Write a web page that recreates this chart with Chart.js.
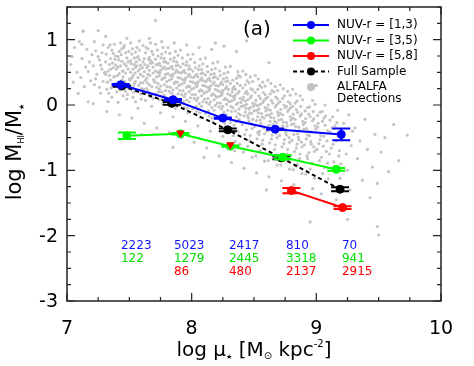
<!DOCTYPE html>
<html>
<head>
<meta charset="utf-8">
<script src="https://cdn.jsdelivr.net/npm/chart.js@4/dist/chart.umd.min.js"></script>
<style>
  html, body { margin: 0; padding: 0; background: #fff; }
  canvas { display: block; }
</style>
</head>
<body>
<canvas id="c" width="474" height="366"></canvas>
<script>
// binned medians (log mu_*, log MHI/M*) with errors
const blueX = [7.43, 7.85, 8.25, 8.67, 9.2];
const blueY = [0.31, 0.08, -0.2, -0.37, -0.45];
const blueErr = [0.01, 0.01, 0.01, 0.01, 0.09];

const greenX = [7.48, 7.91, 8.31, 8.73, 9.16];
const greenY = [-0.47, -0.44, -0.63, -0.8, -0.985];
const greenErr = [0.05, 0.01, 0.01, 0.03, 0.02];

const redX = [8.8, 9.21];
const redY = [-1.31, -1.57];
const redErr = [0.04, 0.02];

// red upper limits (few galaxies in bin)
const redLimX = [7.91, 8.31];
const redLimY = [-0.43, -0.61];

const fullX = [7.44, 7.84, 8.29, 8.72, 9.19];
const fullY = [0.29, 0.025, -0.38, -0.81, -1.29];
const fullErr = [0.01, 0.02, 0.02, 0.02, 0.03];

// number of galaxies per bin
const blueN = [2223, 5023, 2417, 810, 70];
const greenN = [122, 1279, 2445, 3318, 941];
const redN = [null, 86, 480, 2137, 2915];

const xTicks = [7, 8, 9, 10];
const yTicks = [1, 0, -1, -2, -3];

const alfalfa = [
  [7.03,0.62],[7.05,0.35],[7.06,0.88],[7.08,0.5],[7.09,0.18],[7.04,0.74],[7.1,0.97],
  [7.11,0.42],[7.12,0.71],[7.13,1.13],[7.14,0.28],[7.15,0.58],[7.16,0.85],[7.17,0.05],[7.18,0.66],[7.19,0.37],[7.12,0.93],[7.17,0.51],[7.2,0.77],
  [7.21,0.6],[7.22,0.31],[7.23,0.83],[7.24,0.47],[7.25,1.14],[7.26,0.69],[7.27,0.18],[7.28,0.55],[7.29,0.92],[7.21,0.02],[7.23,0.4],[7.25,0.74],[7.27,0.61],[7.29,0.36],[7.22,0.97],[7.26,0.27],[7.28,0.8],[7.3,0.49],
  [7.31,0.66],[7.32,0.24],[7.33,0.88],[7.34,0.45],[7.35,0.71],[7.36,0.12],[7.37,0.57],[7.38,0.93],[7.39,0.33],[7.31,1.05],[7.33,0.52],[7.35,0.38],[7.37,0.79],[7.39,0.61],[7.32,-0.1],[7.34,0.62],[7.36,0.84],[7.38,0.44],[7.4,0.2],[7.31,0.47],[7.35,0.55],[7.37,0.29],[7.39,0.75],[7.33,0.05],
  [7.41,0.58],[7.42,0.82],[7.43,0.35],[7.44,0.67],[7.45,0.14],[7.46,0.91],[7.47,0.49],[7.48,0.72],[7.49,0.26],[7.41,0.04],[7.43,0.6],[7.45,0.43],[7.47,0.8],[7.49,0.55],[7.42,-0.15],[7.44,0.38],[7.46,0.63],[7.48,1.02],[7.5,0.4],[7.41,0.74],[7.43,0.95],[7.45,0.52],[7.47,0.21],[7.49,0.66],[7.42,0.48],[7.46,0.31],[7.48,0.09],[7.44,0.86],
  [7.51,0.5],[7.52,0.78],[7.53,0.28],[7.54,0.62],[7.55,0.05],[7.56,0.88],[7.57,0.42],[7.58,0.69],[7.59,0.17],[7.51,0.95],[7.53,0.55],[7.55,0.36],[7.57,0.74],[7.59,0.47],[7.52,-0.2],[7.54,0.33],[7.56,0.6],[7.58,0.84],[7.6,0.25],[7.51,0.68],[7.53,0.12],[7.55,0.81],[7.57,0.52],[7.59,0.61],[7.52,0.41],[7.56,0.22],[7.58,0.98],[7.54,0.72],[7.55,0.58],[7.57,-0.05],[7.53,0.45],[7.59,0.34],
  [7.61,0.44],[7.62,0.71],[7.63,0.19],[7.64,0.57],[7.65,0.86],[7.66,0.31],[7.67,0.64],[7.68,-0.02],[7.69,0.49],[7.61,0.91],[7.63,0.38],[7.65,0.6],[7.67,0.13],[7.69,0.77],[7.62,-0.28],[7.64,0.25],[7.66,0.53],[7.68,0.82],[7.7,0.36],[7.61,0.66],[7.63,0.07],[7.65,0.47],[7.67,0.95],[7.69,0.58],[7.62,0.51],[7.66,0.73],[7.68,0.28],[7.64,0.41],[7.65,0.21],[7.67,0.68],[7.63,0.8],[7.69,0.1],[7.66,1.02],[7.61,0.34],
  [7.71,0.52],[7.72,0.27],[7.73,0.75],[7.74,0.08],[7.75,0.6],[7.76,0.39],[7.77,0.88],[7.78,0.15],[7.79,0.47],[7.71,0.7],[7.73,0.33],[7.75,-0.12],[7.77,0.56],[7.79,0.81],[7.72,0.43],[7.74,0.64],[7.76,0.2],[7.78,0.58],[7.8,0.36],[7.71,0.93],[7.73,0.5],[7.75,0.29],[7.77,0.02],[7.79,0.66],[7.72,-0.35],[7.74,0.45],[7.76,0.78],[7.78,0.31],[7.75,0.53],[7.77,0.41],[7.73,0.62],[7.79,0.22],[7.71,0.17],[7.76,0.97],[7.74,0.24],[7.78,0.71],
  [7.81,0.48],[7.82,0.21],[7.83,0.7],[7.84,0.03],[7.85,0.55],[7.86,0.33],[7.87,0.82],[7.88,0.1],[7.89,0.42],[7.81,0.64],[7.83,0.27],[7.85,-0.18],[7.87,0.5],[7.89,0.76],[7.82,0.38],[7.84,0.59],[7.86,0.14],[7.88,0.53],[7.9,0.3],[7.81,0.88],[7.83,0.45],[7.85,0.23],[7.87,-0.05],[7.89,0.61],[7.82,-0.42],[7.84,0.4],[7.86,0.72],[7.88,0.26],[7.85,0.47],[7.87,0.35],[7.83,0.57],[7.89,0.17],[7.81,0.09],[7.86,0.95],[7.84,0.18],[7.88,0.66],
  [7.91,0.41],[7.92,0.16],[7.93,0.63],[7.94,-0.04],[7.95,0.49],[7.96,0.27],[7.97,0.77],[7.98,0.05],[7.99,0.36],[7.91,0.58],[7.93,0.22],[7.95,-0.25],[7.97,0.44],[7.99,0.7],[7.92,0.32],[7.94,0.53],[7.96,0.08],[7.98,0.47],[8.0,0.24],[7.91,0.84],[7.93,0.39],[7.95,0.17],[7.97,-0.12],[7.99,0.55],[7.92,-0.5],[7.94,0.34],[7.96,0.66],[7.98,0.2],[7.95,0.41],[7.97,0.29],[7.93,0.51],[7.99,0.11],[7.91,0.0],[7.96,0.92],[7.94,0.13],[7.98,0.6],
  [8.01,0.35],[8.02,0.1],[8.03,0.57],[8.04,-0.1],[8.05,0.43],[8.06,0.21],[8.07,0.7],[8.08,-0.02],[8.09,0.3],[8.01,0.52],[8.03,0.16],[8.05,-0.32],[8.07,0.38],[8.09,0.63],[8.02,0.26],[8.04,0.47],[8.06,0.02],[8.08,0.41],[8.1,0.18],[8.01,0.78],[8.03,0.33],[8.05,0.11],[8.07,-0.19],[8.09,0.49],[8.02,-0.57],[8.04,0.28],[8.06,0.6],[8.08,0.14],[8.05,0.35],[8.07,0.23],[8.03,0.45],[8.09,0.05],[8.01,-0.06],[8.06,0.88],[8.04,0.07],[8.08,0.54],
  [8.11,0.29],[8.12,0.04],[8.13,0.51],[8.14,-0.17],[8.15,0.37],[8.16,0.15],[8.17,0.64],[8.18,-0.08],[8.19,0.24],[8.11,0.46],[8.13,0.1],[8.15,-0.4],[8.17,0.32],[8.19,0.56],[8.12,0.2],[8.14,0.41],[8.16,-0.04],[8.18,0.35],[8.2,0.12],[8.11,0.72],[8.13,0.27],[8.15,0.05],[8.17,-0.26],[8.19,0.43],[8.12,-0.66],[8.14,0.22],[8.16,0.54],[8.18,0.08],[8.15,0.29],[8.17,0.17],[8.13,0.39],[8.19,-0.01],[8.11,-0.13],[8.16,0.85],[8.14,0.01],[8.18,0.48],
  [8.21,0.22],[8.22,-0.03],[8.23,0.45],[8.24,-0.24],[8.25,0.31],[8.26,0.08],[8.27,0.58],[8.28,-0.15],[8.29,0.17],[8.21,0.4],[8.23,0.03],[8.25,-0.48],[8.27,0.25],[8.29,0.5],[8.22,0.13],[8.24,0.35],[8.26,-0.11],[8.28,0.28],[8.3,0.05],[8.21,0.66],[8.23,0.2],[8.25,-0.02],[8.27,-0.33],[8.29,0.37],[8.22,-0.78],[8.24,0.15],[8.26,0.48],[8.28,0.01],[8.25,0.22],[8.27,0.1],[8.23,0.32],[8.29,-0.08],[8.21,-0.2],[8.26,0.9],[8.24,-0.06],[8.28,0.42],
  [8.31,0.15],[8.32,-0.1],[8.33,0.38],[8.34,-0.31],[8.35,0.24],[8.36,0.01],[8.37,0.51],[8.38,-0.22],[8.39,0.1],[8.31,0.33],[8.33,-0.04],[8.35,-0.56],[8.37,0.18],[8.39,0.43],[8.32,0.06],[8.34,0.28],[8.36,-0.18],[8.38,0.21],[8.4,-0.02],[8.31,0.59],[8.33,0.13],[8.35,-0.09],[8.37,-0.4],[8.39,0.3],[8.32,-0.88],[8.34,0.08],[8.36,0.41],[8.38,-0.06],[8.35,0.15],[8.37,0.03],[8.33,0.25],[8.39,-0.15],[8.31,-0.27],[8.36,0.82],
  [8.41,0.08],[8.42,-0.17],[8.43,0.31],[8.44,-0.38],[8.45,0.17],[8.46,-0.06],[8.47,0.43],[8.48,-0.29],[8.49,0.03],[8.41,0.26],[8.43,-0.11],[8.45,-0.63],[8.47,0.11],[8.49,0.36],[8.42,-0.01],[8.44,0.21],[8.46,-0.25],[8.48,0.14],[8.5,-0.09],[8.41,0.52],[8.43,0.06],[8.45,-0.16],[8.47,-0.47],[8.49,0.23],[8.42,-0.97],[8.44,0.01],[8.46,0.34],[8.48,-0.13],[8.45,0.08],[8.47,-0.04],[8.43,0.18],[8.49,-0.22],
  [8.51,0.01],[8.52,-0.24],[8.53,0.24],[8.54,-0.45],[8.55,0.1],[8.56,-0.13],[8.57,0.35],[8.58,-0.36],[8.59,-0.04],[8.51,0.19],[8.53,-0.18],[8.55,-0.7],[8.57,0.04],[8.59,0.29],[8.52,-0.08],[8.54,0.14],[8.56,-0.32],[8.58,0.07],[8.6,-0.16],[8.51,0.45],[8.53,-0.01],[8.55,-0.23],[8.57,-0.54],[8.59,0.16],[8.52,-1.04],[8.54,-0.06],[8.56,0.27],[8.58,-0.2],[8.55,0.01],[8.53,-0.42],
  [8.61,-0.06],[8.62,-0.31],[8.63,0.17],[8.64,-0.52],[8.65,0.03],[8.66,-0.2],[8.67,0.28],[8.68,-0.43],[8.69,-0.11],[8.61,0.12],[8.63,-0.25],[8.65,-0.77],[8.67,-0.03],[8.69,0.22],[8.62,-0.15],[8.64,0.07],[8.66,-0.39],[8.68,0.0],[8.7,-0.23],[8.61,0.38],[8.63,-0.08],[8.65,-0.3],[8.67,-0.61],[8.69,0.09],[8.62,-1.1],[8.64,-0.13],[8.66,0.2],[8.68,-0.27],
  [8.71,-0.13],[8.72,-0.38],[8.73,0.1],[8.74,-0.59],[8.75,-0.04],[8.76,-0.27],[8.77,0.21],[8.78,-0.5],[8.79,-0.18],[8.71,0.05],[8.73,-0.32],[8.75,-0.84],[8.77,-0.1],[8.79,0.15],[8.72,-0.22],[8.74,0.0],[8.76,-0.46],[8.78,-0.07],[8.8,-0.3],[8.71,0.31],[8.73,-0.15],[8.75,-0.37],[8.77,-0.68],[8.79,0.02],[8.72,-1.16],[8.76,-0.02],
  [8.81,-0.2],[8.82,-0.45],[8.83,0.03],[8.84,-0.66],[8.85,-0.11],[8.86,-0.34],[8.87,0.14],[8.88,-0.57],[8.89,-0.25],[8.81,-0.02],[8.83,-0.39],[8.85,-0.91],[8.87,-0.17],[8.89,0.08],[8.82,-0.29],[8.84,-0.07],[8.86,-0.53],[8.88,-0.14],[8.9,-0.37],[8.81,0.24],[8.83,-0.22],[8.85,-0.44],[8.87,-0.75],[8.82,-1.22],
  [8.91,-0.27],[8.92,-0.52],[8.93,-0.04],[8.94,-0.73],[8.95,-0.18],[8.96,-0.41],[8.97,0.07],[8.98,-0.64],[8.99,-0.32],[8.91,-0.09],[8.93,-0.46],[8.95,-0.98],[8.97,-0.24],[8.99,0.01],[8.92,-0.36],[8.94,-0.14],[8.96,-0.6],[8.98,-0.21],[8.93,-0.82],[8.97,-1.28],
  [9.01,-0.34],[9.02,-0.59],[9.03,-0.11],[9.04,-0.8],[9.05,-0.25],[9.06,-0.48],[9.07,0.0],[9.08,-0.71],[9.09,-0.39],[9.01,-0.16],[9.03,-0.53],[9.05,-1.05],[9.07,-0.31],[9.09,-0.89],[9.04,-1.36],[9.06,-0.2],
  [9.11,-0.41],[9.12,-0.66],[9.13,-0.18],[9.14,-0.87],[9.15,-0.32],[9.16,-0.55],[9.17,-0.08],[9.18,-0.78],[9.19,-1.12],[9.11,-0.23],[9.13,-0.97],[9.16,-1.45],[9.18,-0.46],
  [9.21,-0.5],[9.22,-0.28],[9.24,-0.75],[9.25,-1.0],[9.26,-0.15],[9.27,-1.3],[9.28,-0.62],[9.29,-0.4],[9.23,-1.55],
  [9.31,-0.35],[9.33,-0.82],[9.35,-0.55],[9.37,-1.15],[9.39,-0.22],[9.41,-0.68],[9.43,-1.42],[9.45,-0.95],[9.47,-0.45],[9.49,-1.2],
  [9.52,-0.72],[9.55,-0.5],[9.58,-1.02],[9.62,-0.3],[9.66,-0.85],[9.73,-0.46],[9.49,-1.86],[9.5,-1.99],[8.95,-1.79],[7.71,1.29],
  [7.13,1.13],[8.19,0.95],[8.44,0.98],[8.62,0.65],[9.0,0.3],[7.6,-0.45],[8.1,-0.8],[8.6,-1.3],[7.85,-0.65],[9.25,-1.75],
  // denser core
  [7.305,0.5],[7.315,0.78],[7.325,0.35],[7.345,0.92],[7.355,0.26],[7.365,0.64],[7.375,0.43],[7.385,0.7],[7.395,0.55],[7.335,0.18],
  [7.405,0.45],[7.415,0.69],[7.425,0.23],[7.435,0.77],[7.445,0.52],[7.455,0.88],[7.465,0.36],[7.475,0.6],[7.485,0.16],[7.495,0.82],
  [7.505,0.38],[7.515,0.63],[7.525,0.86],[7.535,0.2],[7.545,0.49],[7.565,0.73],[7.575,0.3],[7.585,0.55],[7.595,0.09],[7.555,0.66],
  [7.605,0.57],[7.615,0.24],[7.625,0.62],[7.635,0.88],[7.645,0.34],[7.655,0.7],[7.665,0.45],[7.675,0.16],[7.685,0.65],[7.695,0.39],
  [7.705,0.35],[7.715,0.62],[7.725,0.84],[7.735,0.2],[7.745,0.49],[7.755,0.72],[7.765,0.1],[7.775,0.66],[7.785,0.42],[7.795,0.55],
  [7.805,0.28],[7.815,0.56],[7.825,0.79],[7.835,0.12],[7.845,0.44],[7.855,0.67],[7.865,0.05],[7.875,0.6],[7.885,0.35],[7.895,0.5],
  [7.905,0.22],[7.915,0.49],[7.925,0.72],[7.935,0.05],[7.945,0.38],[7.955,0.61],[7.965,-0.05],[7.975,0.55],[7.985,0.28],[7.995,0.43],
  [8.005,0.16],[8.015,0.42],[8.025,0.65],[8.035,-0.02],[8.045,0.31],[8.055,0.54],[8.065,-0.12],[8.075,0.48],[8.085,0.22],[8.095,0.37],
  [8.105,0.09],[8.115,0.36],[8.125,0.59],[8.135,-0.09],[8.145,0.25],[8.155,0.47],[8.165,-0.2],[8.175,0.42],[8.185,0.15],[8.195,0.3],
  [8.205,0.03],[8.215,0.29],[8.225,0.52],[8.235,-0.16],[8.245,0.18],[8.255,0.4],[8.265,-0.28],[8.275,0.36],[8.285,0.08],[8.295,0.24],
  [8.305,-0.35],[8.315,-0.02],[8.325,0.2],[8.335,-0.47],[8.345,0.11],[8.355,-0.25],[8.365,0.33],[8.375,-0.13],[8.385,-0.6],[8.395,0.04],[8.345,-0.7],[8.375,0.45],
  [8.405,-0.3],[8.415,0.12],[8.425,-0.45],[8.435,-0.05],[8.445,0.37],[8.455,-0.2],[8.465,-0.55],[8.475,0.25],[8.485,-0.36],[8.495,-0.02],[8.415,-0.72],[8.435,0.47],[8.465,-0.12],[8.485,-0.8],
  [8.505,-0.33],[8.515,0.07],[8.525,-0.52],[8.535,-0.12],[8.545,0.3],[8.555,-0.28],[8.565,-0.6],[8.575,0.19],[8.585,-0.44],[8.595,-0.09],[8.515,-0.78],[8.535,0.4],[8.565,-0.18],[8.585,-0.86],[8.545,-0.4],[8.595,0.1],
  [8.605,-0.4],[8.615,0.0],[8.625,-0.58],[8.635,-0.19],[8.645,0.22],[8.655,-0.35],[8.665,-0.68],[8.675,0.12],[8.685,-0.5],[8.695,-0.16],[8.615,-0.85],[8.635,0.33],[8.665,-0.25],[8.685,-0.92],[8.645,-0.46],[8.695,0.03],
  [8.705,-0.47],[8.715,-0.07],[8.725,-0.64],[8.735,-0.26],[8.745,0.14],[8.755,-0.42],[8.765,-0.75],[8.775,0.05],[8.785,-0.57],[8.795,-0.23],[8.715,-0.92],[8.735,0.25],[8.765,-0.32],[8.785,-0.98],[8.745,-0.53],[8.795,-0.04],
  [8.805,-0.54],[8.815,-0.14],[8.825,-0.71],[8.835,-0.33],[8.845,0.06],[8.855,-0.49],[8.865,-0.82],[8.875,-0.02],[8.885,-0.64],[8.895,-0.3],[8.815,-0.99],[8.835,0.17],[8.865,-0.39],[8.885,-1.05],[8.845,-0.6],
  [8.905,-0.61],[8.915,-0.21],[8.925,-0.78],[8.935,-0.4],[8.945,-0.03],[8.955,-0.56],[8.965,-0.89],[8.975,-0.1],[8.985,-0.71],[8.995,-0.37],[8.915,-1.06],[8.945,-0.47],[8.985,-1.12],
  [9.005,-0.68],[9.015,-0.28],[9.025,-0.85],[9.035,-0.47],[9.045,-0.1],[9.055,-0.63],[9.065,-0.96],[9.075,-0.17],[9.085,-0.55],[9.095,-1.13],
  [9.105,-0.75],[9.125,-0.35],[9.135,-0.6],[9.155,-1.02],[9.165,-0.27],[9.185,-0.7],[9.195,-0.9]
];

const FONT = "'DejaVu Sans', sans-serif";
const BLUE = '#0000ff', GREEN = '#00ff00', RED = '#ff0000';

const pts = (xs, ys) => xs.map((x, i) => ({ x: x, y: ys[i] }));

function series(label, xs, ys, err, color, order) {
  return {
    label: label,
    data: pts(xs, ys),
    errors: err,
    showLine: true,
    borderColor: color,
    backgroundColor: color,
    borderWidth: 2,
    pointRadius: 4,
    pointBackgroundColor: color,
    pointBorderColor: color,
    pointBorderWidth: 1,
    order: order,
  };
}

function runs(ctx, parts, x, y) {
  // draw text pieces centred on x, with sub/superscripts
  let w = 0;
  parts.forEach(p => { ctx.font = p[1] + 'px ' + FONT; w += ctx.measureText(p[0]).width; });
  let cx = x - w / 2;
  parts.forEach(p => {
    ctx.font = p[1] + 'px ' + FONT;
    ctx.fillText(p[0], cx, y + (p[2] || 0));
    cx += ctx.measureText(p[0]).width;
  });
}

const decor = {
  id: 'decor',
  afterDatasetDraw(chart, args) {
    const ds = chart.data.datasets[args.index];
    if (!ds.errors) return;
    const ctx = chart.ctx, sx = chart.scales.x, sy = chart.scales.y;
    ctx.save();
    ctx.strokeStyle = ds.borderColor;
    ctx.lineWidth = 2;
    ds.data.forEach((p, i) => {
      const px = sx.getPixelForValue(p.x);
      const y1 = sy.getPixelForValue(p.y + ds.errors[i]);
      const y2 = sy.getPixelForValue(p.y - ds.errors[i]);
      ctx.beginPath();
      ctx.moveTo(px, y1); ctx.lineTo(px, y2);
      ctx.moveTo(px - 9, y1); ctx.lineTo(px + 9, y1);
      ctx.moveTo(px - 9, y2); ctx.lineTo(px + 9, y2);
      ctx.stroke();
    });
    ctx.restore();
  },
  afterDraw(chart) {
    const ctx = chart.ctx, a = chart.chartArea, sx = chart.scales.x, sy = chart.scales.y;
    ctx.save();

    // frame and inward ticks on all sides
    ctx.strokeStyle = '#222';
    ctx.lineWidth = 1.5;
    ctx.strokeRect(a.left, a.top, a.right - a.left, a.bottom - a.top);
    ctx.lineWidth = 1.2;
    ctx.beginPath();
    for (let v = 7; v <= 10.001; v += 0.25) {
      const px = sx.getPixelForValue(v);
      const len = Math.abs(v - Math.round(v)) < 1e-6 ? 8 : 4;
      ctx.moveTo(px, a.bottom); ctx.lineTo(px, a.bottom - len);
      ctx.moveTo(px, a.top); ctx.lineTo(px, a.top + len);
    }
    for (let v = -3; v <= 1.501; v += 0.25) {
      const py = sy.getPixelForValue(v);
      const len = Math.abs(v - Math.round(v)) < 1e-6 ? 8 : 4;
      ctx.moveTo(a.left, py); ctx.lineTo(a.left + len, py);
      ctx.moveTo(a.right, py); ctx.lineTo(a.right - len, py);
    }
    ctx.stroke();

    // tick labels
    ctx.fillStyle = '#000';
    ctx.font = '19px ' + FONT;
    ctx.textAlign = 'center';
    ctx.textBaseline = 'alphabetic';
    xTicks.forEach(v => ctx.fillText(String(v), sx.getPixelForValue(v), 334));
    ctx.textAlign = 'right';
    ctx.textBaseline = 'middle';
    yTicks.forEach(v => ctx.fillText(String(v), 58, sy.getPixelForValue(v) + 1));

    // axis titles
    ctx.textAlign = 'left';
    ctx.textBaseline = 'alphabetic';
    runs(ctx, [['log \u03bc', 20], ['\u2605', 7, 3], [' [M', 20], ['\u2299', 10, 3], [' kpc', 20], ['-2', 10, -9], [']', 20]], 254, 356);
    ctx.save();
    ctx.translate(21, 152);
    ctx.rotate(-Math.PI / 2);
    runs(ctx, [['log M', 21], ['HI', 8, 3], ['/M', 21], ['\u2605', 7, 3]], 0, 0);
    ctx.restore();

    // panel tag
    ctx.font = '20px ' + FONT;
    ctx.fillText('(a)', 243, 35);

    // legend
    const leg = [
      ['NUV-r = [1,3)', BLUE, false],
      ['NUV-r = [3,5)', GREEN, false],
      ['NUV-r = [5,8]', RED, false],
      ['Full Sample', '#000', true],
    ];
    ctx.font = '12px ' + FONT;
    ctx.textBaseline = 'middle';
    leg.forEach((e, i) => {
      const y = 25 + i * 15.5;
      ctx.strokeStyle = e[1];
      ctx.fillStyle = e[1];
      ctx.lineWidth = 2;
      ctx.setLineDash(e[2] ? [4, 3] : []);
      ctx.beginPath(); ctx.moveTo(293, y); ctx.lineTo(329, y); ctx.stroke();
      ctx.setLineDash([]);
      ctx.beginPath(); ctx.arc(311, y, 4, 0, Math.PI * 2); ctx.fill();
      ctx.fillStyle = '#000';
      ctx.fillText(e[0], 337, y);
    });
    ctx.fillStyle = '#c0c0c0';
    ctx.beginPath(); ctx.arc(311, 87, 4, 0, Math.PI * 2); ctx.fill();
    ctx.fillStyle = '#000';
    ctx.fillText('ALFALFA', 337, 87);
    ctx.fillText('Detections', 337, 98.5);

    // galaxy counts per bin
    const cols = [7.433, 7.858, 8.299, 8.756, 9.205];
    const rows = [[blueN, '#1515ff', 245.5], [greenN, '#00e000', 258.5], [redN, RED, 272]];
    ctx.font = '12px ' + FONT;
    rows.forEach(r => {
      ctx.fillStyle = r[1];
      r[0].forEach((n, i) => {
        if (n !== null) ctx.fillText(String(n), sx.getPixelForValue(cols[i]), r[2]);
      });
    });
    ctx.restore();
  }
};

new Chart(document.getElementById('c'), {
  type: 'scatter',
  data: {
    datasets: [
      series('NUV-r = [1,3)', blueX, blueY, blueErr, BLUE, 1),
      {
        label: 'limits',
        data: pts(redLimX, redLimY),
        pointStyle: 'triangle',
        pointRotation: 180,
        pointRadius: 5,
        pointBackgroundColor: RED,
        pointBorderColor: RED,
        pointBorderWidth: 0,
        order: 2,
      },
      series('NUV-r = [5,8]', redX, redY, redErr, RED, 3),
      series('NUV-r = [3,5)', greenX, greenY, greenErr, GREEN, 4),
      Object.assign(series('Full Sample', fullX, fullY, fullErr, '#000', 5), { borderDash: [4, 3] }),
      {
        label: 'ALFALFA Detections',
        data: alfalfa.map(p => ({ x: p[0], y: p[1] })),
        pointRadius: 1.6,
        pointBackgroundColor: '#c4c4c4',
        pointBorderWidth: 0,
        order: 10,
      },
    ],
  },
  options: {
    responsive: false,
    animation: false,
    devicePixelRatio: 1,
    layout: { padding: { top: 7, right: 33, left: 0, bottom: 0 } },
    plugins: { legend: { display: false }, tooltip: { enabled: false } },
    scales: {
      x: {
        type: 'linear', min: 7, max: 10,
        grid: { display: false }, border: { display: false },
        ticks: { display: false },
        afterFit: s => { s.height = 65; },
      },
      y: {
        type: 'linear', min: -3, max: 1.5,
        grid: { display: false }, border: { display: false },
        ticks: { display: false },
        afterFit: s => { s.width = 67; },
      },
    },
  },
  plugins: [decor],
});
</script>
</body>
</html>
